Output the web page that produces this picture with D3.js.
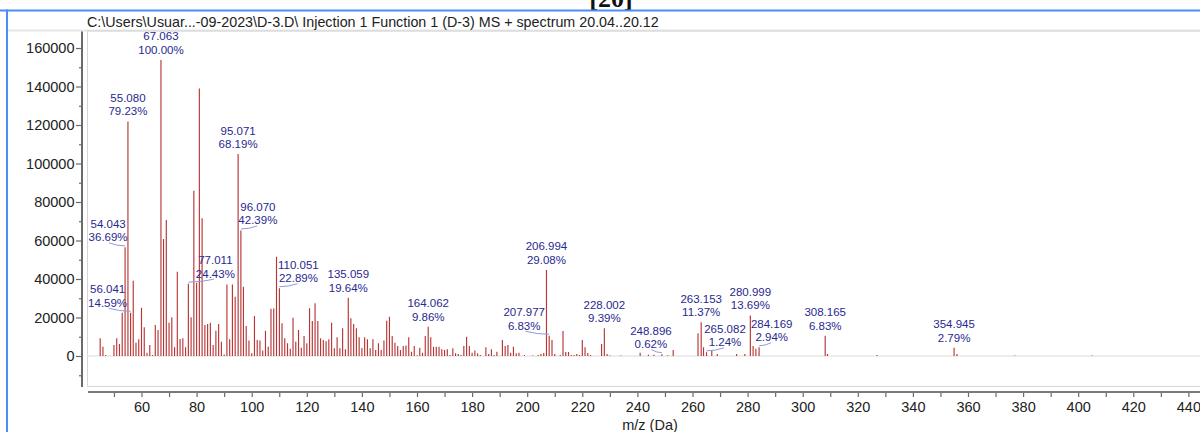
<!DOCTYPE html>
<html>
<head>
<meta charset="utf-8">
<script src="https://cdn.jsdelivr.net/npm/d3@7"></script>
<style>
  html, body { margin: 0; padding: 0; background: #fff; }
  svg { display: block; font-family: "Liberation Sans", Arial, sans-serif; }
</style>
</head>
<body>
<svg id="chart" width="1200" height="432"></svg>
<script>
// ---- Spectrum data (m/z in Da, intensity in counts) ----
const peakMz = [
  45, 46, 47, 50, 51, 52, 53, 57, 58, 59, 60, 61, 62, 63, 64, 65, 66, 68, 69, 70,
  71, 72, 73, 74, 75, 76, 78, 79, 80, 81, 82, 83, 84, 85, 86, 87, 88, 89, 90, 91,
  92, 93, 94, 97, 98, 99, 100, 101, 102, 103, 104, 105, 106, 107, 108, 109, 111, 112, 113, 114,
  115, 116, 117, 118, 119, 120, 121, 122, 123, 124, 125, 126, 127, 128, 129, 130, 131, 132, 133, 134,
  136, 137, 138, 139, 140, 141, 142, 143, 144, 145, 146, 147, 148, 149, 150, 151, 152, 153, 154, 155,
  156, 157, 158, 159, 160, 161, 162, 163, 165, 166, 167, 168, 169, 170, 171, 172, 173, 174, 175, 176,
  177, 178, 179, 180, 181, 182, 183, 185, 186, 187, 188, 189, 191, 192, 193, 194, 195, 196, 197, 199,
  202, 204, 205, 206, 209, 210, 212, 213, 214, 215, 216, 217, 218, 219, 220, 221, 222, 223, 227, 229,
  230, 234, 241, 244, 246, 251, 253, 262, 264, 267, 269, 276, 279, 282, 283, 309, 327, 356, 377, 405
];
const peakIntensity = [
  9200, 4800, 500, 5700, 9200, 6200, 22500, 39100, 6900, 8700, 25100, 14900, 1700, 5700, 500, 16100, 13500, 60800, 70600, 17300,
  20100, 4500, 43800, 8800, 9200, 4500, 20100, 85900, 38000, 139000, 71500, 16100, 16600, 17300, 5700, 13100, 16600, 7400, 800, 37200,
  8700, 37200, 30800, 36000, 15600, 8000, 1400, 20800, 8300, 8000, 2800, 13100, 4800, 24600, 24700, 51600, 17000, 9200, 6600, 3800,
  19900, 7400, 13500, 4300, 10400, 6600, 24800, 18200, 27400, 18200, 9200, 8300, 7600, 8700, 17300, 4000, 9700, 4000, 14400, 3500,
  19600, 16600, 14400, 9700, 4200, 9700, 8700, 4000, 8700, 3100, 6600, 3100, 8000, 18300, 20400, 10400, 6900, 5200, 3100, 5200,
  5400, 9700, 2200, 5200, 350, 4300, 1700, 10400, 9700, 4800, 4800, 4800, 3500, 3100, 3500, 500, 4000, 1400, 1000, 500,
  5200, 10000, 5200, 1700, 2800, 1400, 500, 4500, 1000, 3500, 500, 2200, 8300, 5200, 5700, 1700, 4800, 1400, 1700, 500,
  300, 500, 1000, 1500, 8300, 1000, 500, 13000, 2100, 2100, 500, 500, 1000, 500, 8300, 4500, 1500, 500, 6200, 1000,
  300, 300, 1700, 700, 600, 400, 3100, 11800, 4500, 2800, 1000, 1000, 1000, 5200, 3800, 1000, 500, 1000, 300, 200
];

// Annotated peaks: exact m/z and relative abundance (% of base peak)
const labelMz  = [54.043, 55.080, 56.041, 67.063, 77.011, 95.071, 96.070, 110.051, 135.059, 164.062,
                  206.994, 207.977, 228.002, 248.896, 263.153, 265.082, 280.999, 284.169, 308.165, 354.945];
const labelPct = [36.69, 79.23, 14.59, 100.00, 24.43, 68.19, 42.39, 22.89, 19.64, 9.86,
                  29.08, 6.83, 9.39, 0.62, 11.37, 1.24, 13.69, 2.94, 6.83, 2.79];
const basePeakIntensity = 153800;

// Axis ticks
const yTickLabels = [0, 20000, 40000, 60000, 80000, 100000, 120000, 140000, 160000];
const xTickLabels = [60, 80, 100, 120, 140, 160, 180, 200, 220, 240, 260, 280, 300, 320, 340, 360, 380, 400, 420, 440];

const titleText = "C:\\Users\\Usuar...-09-2023\\D-3.D\\ Injection 1 Function 1 (D-3) MS + spectrum 20.04..20.12";

// Horizontal nudges (px) for annotations that would collide with neighbours
const labelShift = {
  "54.043": -17, "56.041": -23, "77.011": 27, "96.070": 17, "110.051": 19,
  "207.977": -25, "248.896": -11, "265.082": 18.5, "284.169": 12.6
};

// ---- Layout ----
const W = 1200, H = 432;
const plot = { left: 87.5, top: 31, right: 1215, bottom: 386.5 };

const svg = d3.select("#chart");

const x = d3.scaleLinear().domain([60, 440]).range([141.5, 1188.4]);
const y = d3.scaleLinear().domain([0, 160000]).range([356, 48]);

// Window chrome
svg.append("rect").attr("x", 0).attr("y", 0).attr("width", W).attr("height", H).attr("fill", "#fff");
svg.append("text")
  .attr("x", 611).attr("y", 7)
  .attr("text-anchor", "middle")
  .attr("font-family", "'Liberation Serif', 'Times New Roman', serif")
  .attr("font-weight", "bold")
  .attr("font-size", 26)
  .attr("fill", "#111")
  .text("[20]");
svg.append("rect").attr("x", 0).attr("y", 9.5).attr("width", W).attr("height", 2).attr("fill", "#4a8ff5");
svg.append("rect").attr("x", 6).attr("y", 9.5).attr("width", 2).attr("height", H).attr("fill", "#4a8ff5");
svg.append("rect").attr("x", 8).attr("y", 29.5).attr("width", W).attr("height", 2).attr("fill", "#e6e6e6");

// Title line
svg.append("text")
  .attr("x", 87).attr("y", 26.5)
  .attr("font-size", 14.3)
  .attr("fill", "#222")
  .text(titleText);

// Plot frame
svg.append("rect")
  .attr("x", plot.left).attr("y", plot.top)
  .attr("width", plot.right - plot.left).attr("height", plot.bottom - plot.top)
  .attr("fill", "none").attr("stroke", "#d6d6d6").attr("stroke-width", 1);

// Zero baseline
svg.append("line")
  .attr("x1", plot.left).attr("x2", W)
  .attr("y1", y(0)).attr("y2", y(0))
  .attr("stroke", "#dcdcdc").attr("stroke-width", 1);

const defs = svg.append("defs");
defs.append("clipPath").attr("id", "plotClip")
  .append("rect").attr("x", plot.left).attr("y", plot.top)
  .attr("width", plot.right - plot.left).attr("height", plot.bottom - plot.top);

const g = svg.append("g").attr("clip-path", "url(#plotClip)");

// Spectrum sticks
const sticks = peakMz.map((m, i) => ({ mz: m, v: peakIntensity[i] }))
  .concat(labelMz.map((m, i) => ({ mz: m, v: labelPct[i] / 100 * basePeakIntensity })));

g.selectAll("line.stick")
  .data(sticks)
  .join("line")
  .attr("class", "stick")
  .attr("x1", d => x(d.mz)).attr("x2", d => x(d.mz))
  .attr("y1", y(0)).attr("y2", d => y(d.v))
  .attr("stroke", "#b83636")
  .attr("stroke-width", 1.15);

// Annotations
const ann = labelMz.map((m, i) => {
  const v = labelPct[i] / 100 * basePeakIntensity;
  const key = m.toFixed(3);
  return { mz: m, pct: labelPct[i], v, dx: labelShift[key] || 0, key };
});

const annG = svg.append("g");
// leader lines for nudged labels
annG.selectAll("path.leader")
  .data(ann.filter(d => d.dx !== 0))
  .join("path")
  .attr("class", "leader")
  .attr("d", d => {
    const xb = x(d.mz), top = y(d.v);
    const x0 = xb, y0 = top - 1.5;
    const x1 = xb + d.dx * 0.95, y1 = top - 4.5;
    const cx = (x0 + x1) / 2, cy = (y0 + y1) / 2 + 1.5;
    return `M${x0},${y0}Q${cx},${cy} ${x1},${y1}`;
  })
  .attr("fill", "none")
  .attr("stroke", "#8c9ce0")
  .attr("stroke-width", 1);

const labelSel = annG.selectAll("g.ann")
  .data(ann)
  .join("g")
  .attr("class", "ann")
  .attr("transform", d => `translate(${x(d.mz) + d.dx},${y(d.v)})`);

labelSel.append("text")
  .attr("text-anchor", "middle")
  .attr("y", -19.5)
  .attr("font-size", 11.5)
  .attr("fill", "#28288f")
  .text(d => d.key);
labelSel.append("text")
  .attr("text-anchor", "middle")
  .attr("y", -6)
  .attr("font-size", 11.5)
  .attr("fill", "#28288f")
  .text(d => d.pct.toFixed(2) + "%");

// Y axis
const yAxis = d3.axisLeft(y)
  .tickValues(d3.range(-10000, 170000, 10000))
  .tickSize(6)
  .tickFormat(d => yTickLabels.includes(d) ? String(d) : "");
const yAxisG = svg.append("g")
  .attr("transform", "translate(82,0)")
  .call(yAxis);
yAxisG.select(".domain").remove();
yAxisG.append("line")
  .attr("x1", 0).attr("x2", 0).attr("y1", 31.5).attr("y2", 387)
  .attr("stroke", "#6a6a6a").attr("stroke-width", 2);
yAxisG.selectAll(".tick line")
  .attr("stroke", "#6a6a6a")
  .attr("x2", d => yTickLabels.includes(d) ? -6 : -3)
  .attr("stroke-width", 1.2);
yAxisG.selectAll(".tick text")
  .attr("x", -7.5)
  .attr("font-size", 14.5)
  .attr("font-family", "'Liberation Sans', Arial, sans-serif")
  .attr("fill", "#222");

// X axis
const xAxis = d3.axisBottom(x)
  .tickValues(d3.range(50, 450, 10))
  .tickSize(5)
  .tickFormat(d => xTickLabels.includes(d) ? String(d) : "");
const xAxisG = svg.append("g")
  .attr("transform", "translate(0,392)")
  .call(xAxis);
xAxisG.select(".domain").remove();
xAxisG.append("line")
  .attr("x1", 88).attr("x2", W).attr("y1", 0).attr("y2", 0)
  .attr("stroke", "#7a7a7a").attr("stroke-width", 2);
xAxisG.selectAll(".tick line").attr("stroke", "#6a6a6a").attr("stroke-width", 1.2);
xAxisG.selectAll(".tick text")
  .attr("y", 10)
  .attr("font-size", 14.5)
  .attr("font-family", "'Liberation Sans', Arial, sans-serif")
  .attr("fill", "#222");

// Axis title
svg.append("text")
  .attr("x", 650).attr("y", 430)
  .attr("text-anchor", "middle")
  .attr("font-size", 14.5)
  .attr("fill", "#222")
  .text("m/z (Da)");
</script>
</body>
</html>
